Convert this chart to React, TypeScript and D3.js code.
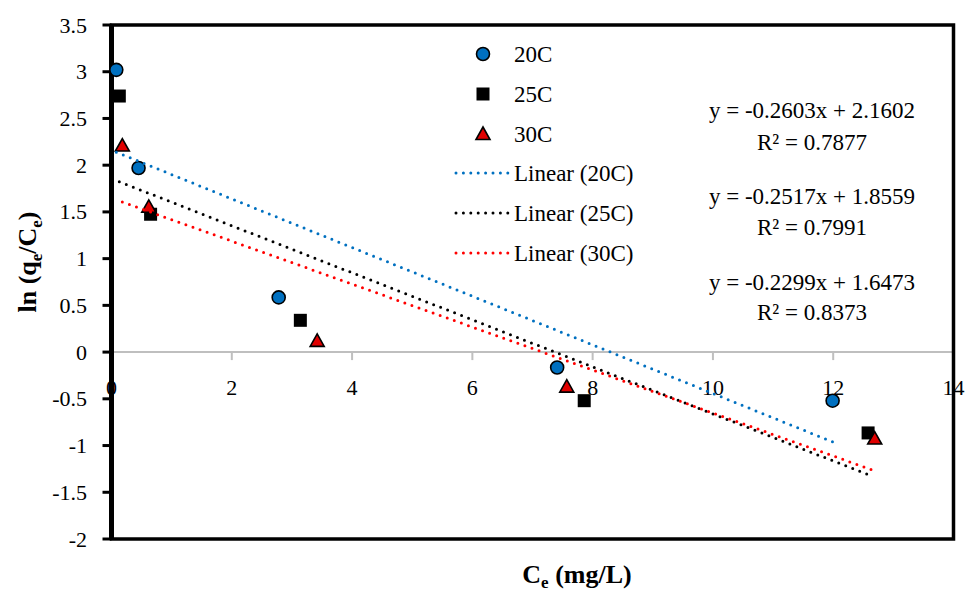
import React from 'react';
import * as d3 from 'd3';

// series: Ce (mg/L) and ln(qe/Ce)
const ce20 = [0.08, 0.45, 2.78, 7.41, 11.99];
const ln20 = [3.02, 1.97, 0.585, -0.165, -0.52];
const ce25 = [0.13, 0.65, 3.14, 7.86, 12.58];
const ln25 = [2.74, 1.475, 0.34, -0.52, -0.865];
const ce30 = [0.18, 0.62, 3.42, 7.57, 12.69];
const ln30 = [2.21, 1.555, 0.12, -0.37, -0.925];

const seriesNames = ['20C', '25C', '30C'];
const slopes = [-0.2603, -0.2517, -0.2299];
const intercepts = [2.1602, 1.8559, 1.6473];
const rSquared = ['0.7877', '0.7991', '0.8373'];
const lineColors = ['#0070C0', '#000000', '#FF0000'];

const xTicks = [0, 2, 4, 6, 8, 10, 12, 14];
const yTicks = [-2, -1.5, -1, -0.5, 0, 0.5, 1, 1.5, 2, 2.5, 3, 3.5];

const W = 968;
const H = 595;
const font = '"Liberation Serif", "Times New Roman", serif';

const x = d3.scaleLinear().domain([0, 14]).range([111.5, 953.5]);
const y = d3.scaleLinear().domain([-2, 3.5]).range([539, 25]);

const fmt = (v: number) => String(v);

function Marker({ kind, cx, cy }: { kind: number; cx: number; cy: number }) {
  if (kind === 0) {
    return <circle cx={cx} cy={cy} r={6.5} fill="#0070C0" stroke="#000" strokeWidth={1.6} />;
  }
  if (kind === 1) {
    return <rect x={cx - 6.5} y={cy - 6.5} width={13} height={13} fill="#000" />;
  }
  const tri = d3.path();
  tri.moveTo(cx, cy - 7);
  tri.lineTo(cx + 7, cy + 5.5);
  tri.lineTo(cx - 7, cy + 5.5);
  tri.closePath();
  return <path d={tri.toString()} fill="#E00000" stroke="#000" strokeWidth={1.6} strokeLinejoin="miter" />;
}

export default function App() {
  const xs = [ce20, ce25, ce30];
  const ys = [ln20, ln25, ln30];
  const line = d3.line<number>().x(d => x(d));

  const x0 = x(0);
  const y0 = y(0);

  return (
    <svg width={W} height={H} style={{ position: 'absolute', left: 0, top: 0 }} fontFamily={font}>
      <rect width={W} height={H} fill="#fff" />

      {/* x axis through y = 0 */}
      <line x1={x(0)} x2={x(14)} y1={y0} y2={y0} stroke="#BFBFBF" strokeWidth={2} />
      {xTicks.map(t => (
        <g key={'xt' + t}>
          <line x1={x(t)} x2={x(t)} y1={y0} y2={y0 + 8} stroke="#BFBFBF" strokeWidth={2} />
          <text x={x(t)} y={395} textAnchor="middle" fontSize={22} fill="#000">{fmt(t)}</text>
        </g>
      ))}

      {/* y ticks */}
      {yTicks.map(t => (
        <g key={'yt' + t}>
          <line x1={x0 - 9} x2={x0} y1={y(t)} y2={y(t)} stroke="#000" strokeWidth={3} />
          <text x={87} y={y(t) + 7.5} textAnchor="end" fontSize={22} fill="#000">{fmt(t)}</text>
        </g>
      ))}

      {/* plot border */}
      <rect x={x(0)} y={y(3.5)} width={x(14) - x(0)} height={y(-2) - y(3.5)} fill="none" stroke="#000" strokeWidth={3.5} />
      <line x1={x0} x2={x0} y1={y(3.5)} y2={y(-2)} stroke="#000" strokeWidth={5} />

      {/* markers */}
      {xs.map((arr, s) =>
        arr.map((v, i) => <Marker key={'m' + s + i} kind={s} cx={x(v)} cy={y(ys[s][i])} />)
      )}

      {/* linear trendlines */}
      {xs.map((arr, s) => {
        const ext = d3.extent(arr) as [number, number];
        const d = line.y(v => y(slopes[s] * v + intercepts[s]))(ext);
        return (
          <path key={'tr' + s} d={d || ''} fill="none" stroke={lineColors[s]} strokeWidth={3}
            strokeDasharray="0 7.5" strokeLinecap="round" />
        );
      })}

      {/* legend */}
      {seriesNames.map((n, s) => (
        <g key={'lg' + s}>
          <Marker kind={s} cx={483} cy={54 + s * 40} />
          <text x={514} y={62 + s * 40} fontSize={23} fill="#000">{n}</text>
        </g>
      ))}
      {seriesNames.map((n, s) => (
        <g key={'ll' + s}>
          <line x1={456} x2={508} y1={173 + s * 40} y2={173 + s * 40} stroke={lineColors[s]} strokeWidth={3}
            strokeDasharray="0 7.4" strokeLinecap="round" />
          <text x={514} y={181 + s * 40} fontSize={23} fill="#000">{'Linear (' + n + ')'}</text>
        </g>
      ))}

      {/* equations */}
      {seriesNames.map((n, s) => (
        <g key={'eq' + s} fontSize={23} fill="#000" textAnchor="middle">
          <text x={812} y={118 + s * 86}>{'y = ' + slopes[s] + 'x + ' + intercepts[s]}</text>
          <text x={812} y={150 + s * 85}>{'R² = ' + rSquared[s]}</text>
        </g>
      ))}

      {/* axis titles */}
      <text transform="translate(36,262) rotate(-90)" textAnchor="middle" fontSize={26} fontWeight="bold" fill="#000">
        ln (q<tspan fontSize={17} dy={6}>e</tspan><tspan dy={-6}>/C</tspan><tspan fontSize={17} dy={6}>e</tspan><tspan dy={-6}>)</tspan>
      </text>
      <text x={577} y={583} textAnchor="middle" fontSize={26} fontWeight="bold" fill="#000">
        C<tspan fontSize={17} dy={5}>e</tspan><tspan dy={-5}> (mg/L)</tspan>
      </text>
    </svg>
  );
}
